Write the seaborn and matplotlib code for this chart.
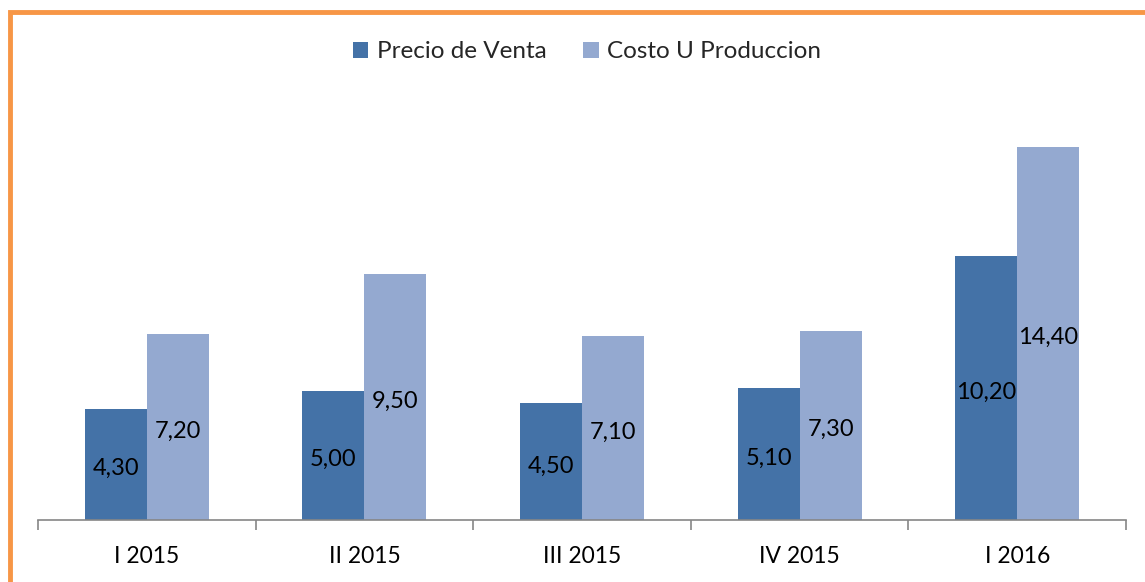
import matplotlib
matplotlib.use("Agg")
import matplotlib.pyplot as plt
import seaborn as sns
import pandas as pd
from matplotlib.patches import Rectangle

categories = ["I 2015", "II 2015", "III 2015", "IV 2015", "I 2016"]
precio_venta = [4.30, 5.00, 4.50, 5.10, 10.20]
costo_produccion = [7.20, 9.50, 7.10, 7.30, 14.40]
series_names = ["Precio de Venta", "Costo U Produccion"]
colors = ["#4472A7", "#94A9D0"]

df = pd.DataFrame({
    "cat": categories * 2,
    "serie": [series_names[0]] * len(categories) + [series_names[1]] * len(categories),
    "valor": precio_venta + costo_produccion,
})

sns.set_theme(style="white")
plt.rcParams["font.family"] = ["Lato", "DejaVu Sans"]

fig = plt.figure(figsize=(11.45, 5.82), dpi=100)
ax = fig.add_axes([38 / 1145, 1 - 520 / 582, (1126 - 38) / 1145, (520 - 105.6) / 582])

sns.barplot(data=df, x="cat", y="valor", hue="serie", palette=colors,
            width=0.57, gap=0, saturation=1, ax=ax, legend=True,
            edgecolor="none", linewidth=0)

for cont, vals in zip(ax.containers, [precio_venta, costo_produccion]):
    labels = [f"{v:.2f}".replace(".", ",") for v in vals]
    anns = ax.bar_label(cont, labels=labels, label_type="center", fontsize=17, color="black")
    for a in anns:
        a.set_y(a.get_position()[1])
        a.xyann = (a.xyann[0], a.xyann[1] - 3)

ax.set_ylim(0, 16)
ax.set_xlim(-0.5, len(categories) - 0.5)
ax.set_xlabel("")
ax.set_ylabel("")
ax.set_yticks([])
for s in ["top", "right", "left"]:
    ax.spines[s].set_visible(False)
ax.spines["bottom"].set_color("#868686")
ax.spines["bottom"].set_linewidth(1.2)
ax.tick_params(axis="x", which="major", length=0, labelsize=16.5, pad=19, colors="black")
ax.set_xticks([i - 0.5 for i in range(len(categories) + 1)], minor=True)
ax.tick_params(axis="x", which="minor", length=7, width=1.2, color="#868686", direction="out")
ax.xaxis.set_tick_params(which="minor", bottom=True)

leg = ax.get_legend()
handles, labs = ax.get_legend_handles_labels()
leg.remove()
fig.legend(handles, labs, loc="center", bbox_to_anchor=(587 / 1145, 1 - 52 / 582),
           ncol=2, frameon=False, fontsize=17.5, handlelength=0.65, handleheight=0.65,
           handletextpad=0.35, columnspacing=1.5)

fig.patches.append(Rectangle((10 / 1145, -0.1), 1.2, 1 - 12 / 582 + 0.1,
                             transform=fig.transFigure, fill=False,
                             edgecolor="#F79646", linewidth=3.5, zorder=10))

fig.savefig("out.png", dpi=100, facecolor="white")
